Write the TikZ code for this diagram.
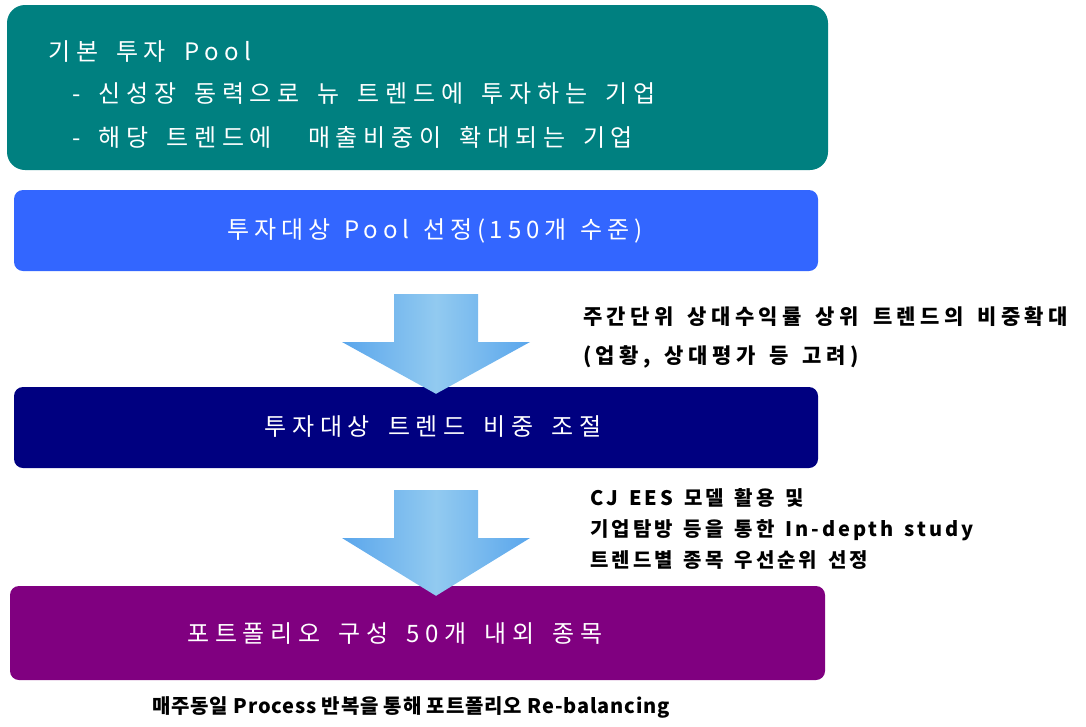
\documentclass[tikz,border=0pt]{standalone}
\usepackage{fontspec}
\setmainfont{Noto Sans CJK KR}
\newcommand\bxfont{\fontsize{24}{28}\selectfont\addfontfeatures{LetterSpace=24}\spaceskip 18pt\relax}
\newcommand\bxfontb{\fontsize{24}{28}\selectfont\addfontfeatures{LetterSpace=20}\spaceskip 14pt\relax}
\newcommand\sdfonta{\fontsize{21}{39}\selectfont\bfseries\addfontfeatures{LetterSpace=21}\spaceskip 14pt\relax}
\newcommand\sdfontb{\fontsize{20}{31}\selectfont\bfseries\addfontfeatures{LetterSpace=15}\spaceskip 11pt\relax}
\newcommand\btfont{\fontsize{20}{24}\selectfont\bfseries\addfontfeatures{LetterSpace=4}}
\begin{document}
\begin{tikzpicture}[x=1pt,y=-1pt,
  box/.style={inner sep=0pt, draw=none},
  boxtext/.style={text=white, font=\bxfont, inner sep=0pt},
  sidetext/.style={text=black, font=\sdfonta, inner sep=0pt, align=left, anchor=west},
  blockarrow/.style={left color=arrowedge, right color=arrowedge, middle color=arrowmid}
]
\definecolor{tealbox}{HTML}{008080}
\definecolor{bluebox}{HTML}{3366FF}
\definecolor{navybox}{HTML}{000080}
\definecolor{purplebox}{HTML}{800080}
\definecolor{arrowedge}{HTML}{5AA6EC}
\definecolor{arrowmid}{HTML}{92CAF0}
\useasboundingbox (0,0) rectangle (1086,726);

% boxes
\fill[tealbox, rounded corners=18pt] (7,5) rectangle (828,170);
\node[box, minimum width=821pt, minimum height=165pt] (b1) at (417.5,87.5) {};
\fill[bluebox, rounded corners=9pt] (14,190) rectangle (818,271);
\node[box, minimum width=804pt, minimum height=81pt] (b2) at (416,230.5) {};
\fill[navybox, rounded corners=9pt] (14,387) rectangle (818,468);
\node[box, minimum width=804pt, minimum height=81pt] (b3) at (416,427.5) {};
\fill[purplebox, rounded corners=9pt] (10,586) rectangle (825,680);
\node[box, minimum width=815pt, minimum height=94pt] (b4) at (417.5,633) {};

% box texts
\node[boxtext, anchor=west] (t1a) at (48,52) {기본 투자 Pool};
\node[boxtext, anchor=west] (t1b) at (72,94) {- 신성장 동력으로 뉴 트렌드에 투자하는 기업};
\node[boxtext, anchor=west] (t1c) at (72,137) {- 해당 트렌드에 \ 매출비중이 확대되는 기업};
\node[boxtext, font=\bxfontb] (t2) at (435,231) {투자대상 Pool 선정(150개 수준)};
\node[boxtext] (t3) at (433,427) {투자대상 트렌드 비중 조절};
\node[boxtext] (t4) at (395,634) {포트폴리오 구성 50개 내외 종목};

% block arrows
\coordinate (a1) at (436,294);
\coordinate (a2) at (436,490);
\shade[blockarrow] (394,294) -- (478,294) -- (478,342) -- (530,342) -- ([yshift=-7pt]b3.north -| a1) -- (342,342) -- (394,342) -- cycle;
\shade[blockarrow] (394,490) -- (478,490) -- (478,538) -- (530,538) -- ([yshift=-10pt]b4.north -| a2) -- (342,538) -- (394,538) -- cycle;

% side labels
\node[sidetext] (s1) at (583,337.5) {주간단위 상대수익률 상위 트렌드의 비중확대\\(업황, 상대평가 등 고려)};
\node[sidetext, font=\sdfontb] (s2) at (590,529) {CJ EES 모델 활용 및\\기업탐방 등을 통한 In-depth study\\트렌드별 종목 우선순위 선정};

% bottom label
\node[sidetext, anchor=center, font=\btfont] (bot) at (411,707) {매주동일 Process 반복을 통해 포트폴리오 Re-balancing};
\end{tikzpicture}
\end{document}
